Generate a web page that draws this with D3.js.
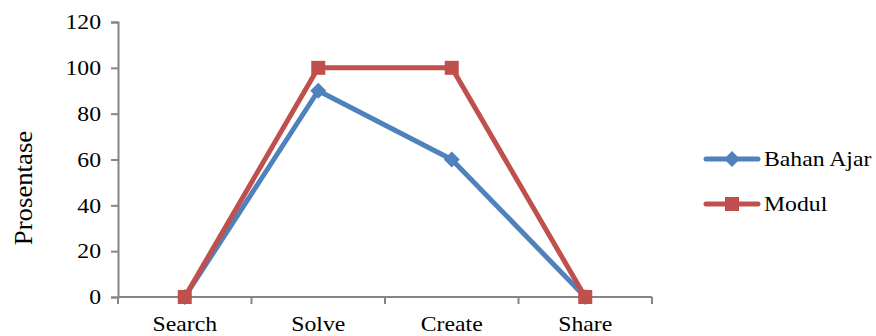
<!DOCTYPE html>
<html>
<head>
<meta charset="utf-8">
<script src="https://cdn.jsdelivr.net/npm/d3@7"></script>
<style>
  html, body { margin: 0; padding: 0; background: #fff; }
  svg { display: block; }
  svg text { font-family: "Liberation Serif", Tinos, "Times New Roman", Times, "DejaVu Serif", "Noto Serif", serif !important; fill: #000; }
</style>
</head>
<body>
<svg id="chart" width="876" height="336"></svg>
<script>
// Categories, series and tick values
const categories = ["Search", "Solve", "Create", "Share"];
const bahanAjar = [0, 90, 60, 0];
const modul = [0, 100, 100, 0];
const yTicks = [0, 20, 40, 60, 80, 100, 120];
const seriesNames = ["Bahan Ajar", "Modul"];
const seriesColors = ["#4F81BD", "#C0504D"];

const svg = d3.select("#chart");
const plotLeft = 118, plotRight = 652, plotTop = 22, plotBottom = 297;
const stretch = 1.13;   // glyphs drawn slightly wide
const fontSize = 21;

const x = d3.scaleBand().domain(categories).range([plotLeft, plotRight]);
const y = d3.scaleLinear().domain([0, 120]).range([plotBottom, plotTop]);

const axisColor = "#868686";

// Y axis
const yAxis = svg.append("g")
  .attr("transform", `translate(${plotLeft},0)`)
  .call(d3.axisLeft(y).tickValues(yTicks).tickSize(7).tickPadding(9));
yAxis.attr("font-family", null);
yAxis.select(".domain").attr("stroke", axisColor).attr("stroke-width", 2);
yAxis.selectAll(".tick line").attr("stroke", axisColor).attr("stroke-width", 2);
yAxis.selectAll(".tick text")
  .attr("font-size", fontSize)
  .attr("x", -17 / stretch)
  .attr("transform", `scale(${stretch},1)`);

// X axis with ticks on category boundaries
const xAxis = svg.append("g")
  .attr("transform", `translate(0,${plotBottom})`);
xAxis.append("line")
  .attr("x1", plotLeft).attr("x2", plotRight)
  .attr("stroke", axisColor).attr("stroke-width", 2);
const bounds = categories.map(c => x(c)).concat([x(categories[categories.length - 1]) + x.bandwidth()]);
xAxis.selectAll("line.tick").data(bounds).join("line")
  .attr("class", "tick")
  .attr("x1", d => d).attr("x2", d => d)
  .attr("y1", 0).attr("y2", 7)
  .attr("stroke", axisColor).attr("stroke-width", 2);
xAxis.selectAll("text").data(categories).join("text")
  .attr("transform", d => `translate(${x(d) + x.bandwidth() / 2},34) scale(${stretch},1)`)
  .attr("text-anchor", "middle")
  .attr("font-size", fontSize)
  .text(d => d);

// Y axis title
svg.append("text")
  .attr("transform", "translate(32,188) rotate(-90) scale(1.07,1)")
  .attr("text-anchor", "middle")
  .attr("font-size", 25)
  .text("Prosentase");

const cx = d => x(d) + x.bandwidth() / 2;
const line = d3.line().x(d => cx(d.c)).y(d => y(d.v));

const series = [bahanAjar, modul].map((vals, i) => ({
  name: seriesNames[i],
  color: seriesColors[i],
  points: categories.map((c, j) => ({ c, v: vals[j] }))
}));

function drawMarker(g, i, px, py, color) {
  if (i === 0) {
    g.append("path")
      .attr("d", `M${px},${py - 8}L${px + 8},${py}L${px},${py + 8}L${px - 8},${py}Z`)
      .attr("fill", color);
  } else {
    g.append("rect")
      .attr("x", px - 7).attr("y", py - 7)
      .attr("width", 14).attr("height", 14)
      .attr("fill", color);
  }
}

series.forEach((s, i) => {
  const g = svg.append("g");
  g.append("path")
    .datum(s.points)
    .attr("d", line)
    .attr("fill", "none")
    .attr("stroke", s.color)
    .attr("stroke-width", 5)
    .attr("stroke-linejoin", "round")
    .attr("stroke-linecap", "round");
  s.points.forEach(p => drawMarker(g, i, cx(p.c), y(p.v), s.color));
});

// Legend
const legendY = [159, 204];
series.forEach((s, i) => {
  const g = svg.append("g");
  g.append("line")
    .attr("x1", 706).attr("x2", 758)
    .attr("y1", legendY[i]).attr("y2", legendY[i])
    .attr("stroke", s.color).attr("stroke-width", 5)
    .attr("stroke-linecap", "round");
  drawMarker(g, i, 732, legendY[i], s.color);
  g.append("text")
    .attr("transform", `translate(764,${legendY[i] + 7}) scale(${stretch},1)`)
    .attr("font-size", fontSize)
    .text(s.name);
});
</script>
</body>
</html>
